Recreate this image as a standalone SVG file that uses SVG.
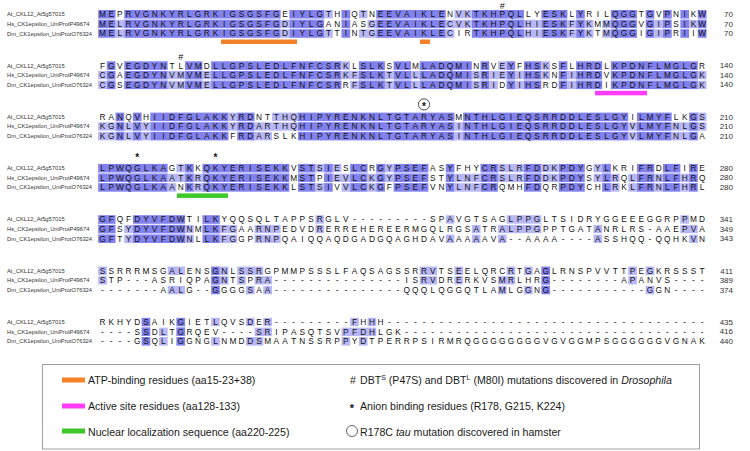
<svg xmlns="http://www.w3.org/2000/svg" width="750" height="451" viewBox="0 0 750 451">
<style>
text{font-family:"Liberation Sans",Arial,Helvetica,sans-serif;fill:#111}
.s{font-size:8.3px;text-anchor:middle}
.lab{font-size:5.8px;fill:#333}
.num{font-size:8px;text-anchor:end;fill:#333}
.d{fill:#8282ee}
.m{fill:#b8b8f6}
.gap{fill:#fff}
.sym{font-size:9px;text-anchor:middle}
.star{font-size:10px;font-weight:bold;text-anchor:middle}
.lstar{font-size:11px;font-weight:bold;text-anchor:middle}
.leg{font-size:10.6px;fill:#1a1a1a}
.sup{font-size:7px}
</style>
<rect width="750" height="451" fill="#fff"/>

<g id="block1">
<g transform="translate(98.155,0) scale(8.69,1)">
<rect class="d" x="0" y="10" width="2" height="27.8"/><rect class="d" x="3" y="10" width="18" height="27.8"/><rect class="d" x="22" y="10" width="4" height="27.8"/><rect class="d" x="28" y="10" width="1" height="27.8"/><rect class="d" x="32" y="10" width="8" height="27.8"/><rect class="d" x="43" y="10" width="6" height="27.8"/><rect class="d" x="51" y="10" width="3" height="27.8"/><rect class="d" x="55" y="10" width="1" height="27.8"/><rect class="d" x="59" y="10" width="3" height="27.8"/><rect class="d" x="63" y="10" width="1" height="27.8"/><rect class="d" x="65" y="10" width="1" height="27.8"/><rect class="d" x="67" y="10" width="1" height="27.8"/><rect class="d" x="69" y="10" width="1" height="27.8"/>
<rect class="m" x="26" y="10" width="1" height="8.6"/><rect class="m" x="30" y="10" width="1" height="8.6"/><rect class="m" x="41" y="10" width="2" height="8.6"/>
<rect class="m" x="2" y="19.6" width="1" height="8.6"/><rect class="m" x="21" y="19.6" width="1" height="8.6"/><rect class="m" x="31" y="19.6" width="1" height="8.6"/><rect class="m" x="40" y="19.6" width="3" height="8.6"/><rect class="m" x="49" y="19.6" width="2" height="8.6"/><rect class="m" x="54" y="19.6" width="1" height="8.6"/><rect class="m" x="56" y="19.6" width="1" height="8.6"/><rect class="m" x="58" y="19.6" width="1" height="8.6"/><rect class="m" x="64" y="19.6" width="1" height="8.6"/><rect class="m" x="68" y="19.6" width="1" height="8.6"/>
<rect class="m" x="2" y="29.2" width="1" height="8.6"/><rect class="m" x="21" y="29.2" width="1" height="8.6"/><rect class="m" x="26" y="29.2" width="1" height="8.6"/><rect class="m" x="30" y="29.2" width="2" height="8.6"/><rect class="m" x="40" y="29.2" width="1" height="8.6"/><rect class="m" x="49" y="29.2" width="2" height="8.6"/><rect class="m" x="54" y="29.2" width="1" height="8.6"/><rect class="m" x="56" y="29.2" width="1" height="8.6"/><rect class="m" x="58" y="29.2" width="1" height="8.6"/><rect class="m" x="64" y="29.2" width="1" height="8.6"/>
<rect class="gap" x="0" y="18.6" width="70" height="1"/><rect class="gap" x="0" y="28.2" width="70" height="1"/>
</g>
<text class="sym" x="502.24" y="8.5">#</text>
<rect x="221" y="39.5" width="76" height="4.5" fill="#f5822a"/>
<rect x="420" y="39.5" width="10" height="4.5" fill="#f5822a"/>
<text class="lab" x="7" y="16.3">At_CKL12_At5g57015</text>
<text class="lab" x="7" y="25.9">Hs_CK1epsilon_UniProtP49674</text>
<text class="lab" x="7" y="35.5">Dm_CK1epsilon_UniProtO76324</text>
<text class="s" x="102.5 111.19 119.88 128.57 137.26 145.95 154.64 163.33 172.02 180.71 189.4 198.09 206.78 215.47 224.16 232.85 241.54 250.23 258.92 267.61 276.3 284.99 293.68 302.37 311.06 319.75 328.44 337.13 345.82 354.51 363.2 371.89 380.58 389.27 397.96 406.65 415.34 424.03 432.72 441.41 450.1 458.79 467.48 476.17 484.86 493.55 502.24 510.93 519.62 528.31 537 545.69 554.38 563.07 571.76 580.45 589.14 597.83 606.52 615.21 623.9 632.59 641.28 649.97 658.66 667.35 676.04 684.73 693.42 702.11" y="17.25">MEPRVGNKYRLGRKIGSGSFGEIYLGTHIQTNEEVAIKLENVKTKHPQLLYESKLYRILQGGTGVPNIKW</text>
<text class="s" x="102.5 111.19 119.88 128.57 137.26 145.95 154.64 163.33 172.02 180.71 189.4 198.09 206.78 215.47 224.16 232.85 241.54 250.23 258.92 267.61 276.3 284.99 293.68 302.37 311.06 319.75 328.44 337.13 345.82 354.51 363.2 371.89 380.58 389.27 397.96 406.65 415.34 424.03 432.72 441.41 450.1 458.79 467.48 476.17 484.86 493.55 502.24 510.93 519.62 528.31 537 545.69 554.38 563.07 571.76 580.45 589.14 597.83 606.52 615.21 623.9 632.59 641.28 649.97 658.66 667.35 676.04 684.73 693.42 702.11" y="26.85">MELRVGNKYRLGRKIGSGSFGDIYLGANIASGEEVAIKLECVKTKHPQLHIESKFYKMMQGGVGIPSIKW</text>
<text class="s" x="102.5 111.19 119.88 128.57 137.26 145.95 154.64 163.33 172.02 180.71 189.4 198.09 206.78 215.47 224.16 232.85 241.54 250.23 258.92 267.61 276.3 284.99 293.68 302.37 311.06 319.75 328.44 337.13 345.82 354.51 363.2 371.89 380.58 389.27 397.96 406.65 415.34 424.03 432.72 441.41 450.1 458.79 467.48 476.17 484.86 493.55 502.24 510.93 519.62 528.31 537 545.69 554.38 563.07 571.76 580.45 589.14 597.83 606.52 615.21 623.9 632.59 641.28 649.97 658.66 667.35 676.04 684.73 693.42 702.11" y="36.45">MELRVGNKYRLGRKIGSGSFGDIYLGTTINTGEEVAIKLECIRTKHPQLHIESKFYKTMQGGIGIPRIIW</text>
<text class="num" x="733" y="17">70</text><text class="num" x="733" y="26.6">70</text><text class="num" x="733" y="36.2">70</text>
</g>

<g id="block2" transform="translate(0,51.3)">
<g transform="translate(98.155,0) scale(8.69,1)">
<rect class="d" x="1" y="10" width="1" height="27.8"/><rect class="d" x="3" y="10" width="5" height="27.8"/><rect class="d" x="10" y="10" width="2" height="27.8"/><rect class="d" x="13" y="10" width="15" height="27.8"/><rect class="d" x="30" y="10" width="3" height="27.8"/><rect class="d" x="34" y="10" width="2" height="27.8"/><rect class="d" x="37" y="10" width="6" height="27.8"/><rect class="d" x="44" y="10" width="1" height="27.8"/><rect class="d" x="47" y="10" width="1" height="27.8"/><rect class="d" x="49" y="10" width="2" height="27.8"/><rect class="d" x="53" y="10" width="1" height="27.8"/><rect class="d" x="55" y="10" width="3" height="27.8"/><rect class="d" x="59" y="10" width="10" height="27.8"/>
<rect class="m" x="28" y="10" width="1" height="8.6"/><rect class="m" x="46" y="10" width="1" height="8.6"/><rect class="m" x="51" y="10" width="1" height="8.6"/>
<rect class="m" x="0" y="19.6" width="1" height="8.6"/><rect class="m" x="8" y="19.6" width="2" height="8.6"/><rect class="m" x="12" y="19.6" width="1" height="8.6"/><rect class="m" x="28" y="19.6" width="2" height="8.6"/><rect class="m" x="33" y="19.6" width="1" height="8.6"/><rect class="m" x="36" y="19.6" width="1" height="8.6"/><rect class="m" x="43" y="19.6" width="1" height="8.6"/><rect class="m" x="45" y="19.6" width="2" height="8.6"/><rect class="m" x="48" y="19.6" width="1" height="8.6"/><rect class="m" x="51" y="19.6" width="1" height="8.6"/><rect class="m" x="54" y="19.6" width="1" height="8.6"/><rect class="m" x="69" y="19.6" width="1" height="8.6"/>
<rect class="m" x="0" y="29.2" width="1" height="8.6"/><rect class="m" x="8" y="29.2" width="2" height="8.6"/><rect class="m" x="12" y="29.2" width="1" height="8.6"/><rect class="m" x="29" y="29.2" width="1" height="8.6"/><rect class="m" x="33" y="29.2" width="1" height="8.6"/><rect class="m" x="36" y="29.2" width="1" height="8.6"/><rect class="m" x="43" y="29.2" width="1" height="8.6"/><rect class="m" x="45" y="29.2" width="1" height="8.6"/><rect class="m" x="48" y="29.2" width="1" height="8.6"/><rect class="m" x="54" y="29.2" width="1" height="8.6"/><rect class="m" x="69" y="29.2" width="1" height="8.6"/>
<rect class="gap" x="0" y="18.6" width="70" height="1"/><rect class="gap" x="0" y="28.2" width="70" height="1"/>
</g>
<text class="sym" x="180.71" y="8.5">#</text>
<rect x="595" y="39.5" width="52" height="4.5" fill="#ff3cff"/>
<text class="lab" x="7" y="16.3">At_CKL12_At5g57015</text>
<text class="lab" x="7" y="25.9">Hs_CK1epsilon_UniProtP49674</text>
<text class="lab" x="7" y="35.5">Dm_CK1epsilon_UniProtO76324</text>
<text class="s" x="102.5 111.19 119.88 128.57 137.26 145.95 154.64 163.33 172.02 180.71 189.4 198.09 206.78 215.47 224.16 232.85 241.54 250.23 258.92 267.61 276.3 284.99 293.68 302.37 311.06 319.75 328.44 337.13 345.82 354.51 363.2 371.89 380.58 389.27 397.96 406.65 415.34 424.03 432.72 441.41 450.1 458.79 467.48 476.17 484.86 493.55 502.24 510.93 519.62 528.31 537 545.69 554.38 563.07 571.76 580.45 589.14 597.83 606.52 615.21 623.9 632.59 641.28 649.97 658.66 667.35 676.04 684.73 693.42 702.11" y="17.25">FGVEGDYNTLVMDLLGPSLEDLFNFCSRKLSLKSVLMLADQMINRVEYFHSKSFLHRDLKPDNFLMGLGR</text>
<text class="s" x="102.5 111.19 119.88 128.57 137.26 145.95 154.64 163.33 172.02 180.71 189.4 198.09 206.78 215.47 224.16 232.85 241.54 250.23 258.92 267.61 276.3 284.99 293.68 302.37 311.06 319.75 328.44 337.13 345.82 354.51 363.2 371.89 380.58 389.27 397.96 406.65 415.34 424.03 432.72 441.41 450.1 458.79 467.48 476.17 484.86 493.55 502.24 510.93 519.62 528.31 537 545.69 554.38 563.07 571.76 580.45 589.14 597.83 606.52 615.21 623.9 632.59 641.28 649.97 658.66 667.35 676.04 684.73 693.42 702.11" y="26.85">CGAEGDYNVMVMELLGPSLEDLFNFCSRKFSLKTVLLLADQMISRIEYIHSKNFIHRDVKPDNFLMGLGK</text>
<text class="s" x="102.5 111.19 119.88 128.57 137.26 145.95 154.64 163.33 172.02 180.71 189.4 198.09 206.78 215.47 224.16 232.85 241.54 250.23 258.92 267.61 276.3 284.99 293.68 302.37 311.06 319.75 328.44 337.13 345.82 354.51 363.2 371.89 380.58 389.27 397.96 406.65 415.34 424.03 432.72 441.41 450.1 458.79 467.48 476.17 484.86 493.55 502.24 510.93 519.62 528.31 537 545.69 554.38 563.07 571.76 580.45 589.14 597.83 606.52 615.21 623.9 632.59 641.28 649.97 658.66 667.35 676.04 684.73 693.42 702.11" y="36.45">CGSEGDYNVMVMELLGPSLEDLFNFCSRRFSLKTVLLLADQMISRIDYIHSRDFIHRDIKPDNFLMGLGK</text>
<text class="num" x="733" y="17">140</text><text class="num" x="733" y="26.6">140</text><text class="num" x="733" y="36.2">140</text>
</g>

<g id="block3" transform="translate(0,102.6)">
<g transform="translate(98.155,0) scale(8.69,1)">
<rect class="d" x="2" y="10" width="1" height="27.8"/><rect class="d" x="4" y="10" width="1" height="27.8"/><rect class="d" x="6" y="10" width="9" height="27.8"/><rect class="d" x="16" y="10" width="2" height="27.8"/><rect class="d" x="23" y="10" width="18" height="27.8"/><rect class="d" x="42" y="10" width="19" height="27.8"/><rect class="d" x="62" y="10" width="4" height="27.8"/><rect class="d" x="68" y="10" width="1" height="27.8"/>
<rect class="m" x="15" y="10" width="1" height="8.6"/><rect class="m" x="20" y="10" width="3" height="8.6"/><rect class="m" x="69" y="10" width="1" height="8.6"/>
<rect class="m" x="0" y="19.6" width="2" height="8.6"/><rect class="m" x="3" y="19.6" width="1" height="8.6"/><rect class="m" x="5" y="19.6" width="1" height="8.6"/><rect class="m" x="15" y="19.6" width="1" height="8.6"/><rect class="m" x="18" y="19.6" width="5" height="8.6"/><rect class="m" x="41" y="19.6" width="1" height="8.6"/><rect class="m" x="61" y="19.6" width="1" height="8.6"/><rect class="m" x="66" y="19.6" width="2" height="8.6"/><rect class="m" x="69" y="19.6" width="1" height="8.6"/>
<rect class="m" x="0" y="29.2" width="2" height="8.6"/><rect class="m" x="3" y="29.2" width="1" height="8.6"/><rect class="m" x="5" y="29.2" width="1" height="8.6"/><rect class="m" x="18" y="29.2" width="2" height="8.6"/><rect class="m" x="41" y="29.2" width="1" height="8.6"/><rect class="m" x="61" y="29.2" width="1" height="8.6"/><rect class="m" x="66" y="29.2" width="2" height="8.6"/>
<rect class="gap" x="0" y="18.6" width="70" height="1"/><rect class="gap" x="0" y="28.2" width="70" height="1"/>
</g>
<circle cx="424.03" cy="1.8" r="5.6" fill="none" stroke="#222" stroke-width="0.8"/>
<text class="star" x="424.03" y="7.4">*</text>
<text class="lab" x="7" y="16.3">At_CKL12_At5g57015</text>
<text class="lab" x="7" y="25.9">Hs_CK1epsilon_UniProtP49674</text>
<text class="lab" x="7" y="35.5">Dm_CK1epsilon_UniProtO76324</text>
<text class="s" x="102.5 111.19 119.88 128.57 137.26 145.95 154.64 163.33 172.02 180.71 189.4 198.09 206.78 215.47 224.16 232.85 241.54 250.23 258.92 267.61 276.3 284.99 293.68 302.37 311.06 319.75 328.44 337.13 345.82 354.51 363.2 371.89 380.58 389.27 397.96 406.65 415.34 424.03 432.72 441.41 450.1 458.79 467.48 476.17 484.86 493.55 502.24 510.93 519.62 528.31 537 545.69 554.38 563.07 571.76 580.45 589.14 597.83 606.52 615.21 623.9 632.59 641.28 649.97 658.66 667.35 676.04 684.73 693.42 702.11" y="17.25">RANQVHIIDFGLAKKYRDNTTHQHIPYRENKNLTGTARYASMNTHLGIEQSRRDDLESLGYILMYFLKGS</text>
<text class="s" x="102.5 111.19 119.88 128.57 137.26 145.95 154.64 163.33 172.02 180.71 189.4 198.09 206.78 215.47 224.16 232.85 241.54 250.23 258.92 267.61 276.3 284.99 293.68 302.37 311.06 319.75 328.44 337.13 345.82 354.51 363.2 371.89 380.58 389.27 397.96 406.65 415.34 424.03 432.72 441.41 450.1 458.79 467.48 476.17 484.86 493.55 502.24 510.93 519.62 528.31 537 545.69 554.38 563.07 571.76 580.45 589.14 597.83 606.52 615.21 623.9 632.59 641.28 649.97 658.66 667.35 676.04 684.73 693.42 702.11" y="26.85">KGNLVYIIDFGLAKKYRDARTHQHIPYRENKNLTGTARYASINTHLGIEQSRRDDLESLGYVLMYFNLGS</text>
<text class="s" x="102.5 111.19 119.88 128.57 137.26 145.95 154.64 163.33 172.02 180.71 189.4 198.09 206.78 215.47 224.16 232.85 241.54 250.23 258.92 267.61 276.3 284.99 293.68 302.37 311.06 319.75 328.44 337.13 345.82 354.51 363.2 371.89 380.58 389.27 397.96 406.65 415.34 424.03 432.72 441.41 450.1 458.79 467.48 476.17 484.86 493.55 502.24 510.93 519.62 528.31 537 545.69 554.38 563.07 571.76 580.45 589.14 597.83 606.52 615.21 623.9 632.59 641.28 649.97 658.66 667.35 676.04 684.73 693.42 702.11" y="36.45">KGNLVYIIDFGLAKKFRDARSLKHIPYRENKNLTGTARYASINTHLGIEQSRRDDLESLGYVLMYFNLGA</text>
<text class="num" x="733" y="17">210</text><text class="num" x="733" y="26.6">210</text><text class="num" x="733" y="36.2">210</text>
</g>

<g id="block4" transform="translate(0,153.9)">
<g transform="translate(98.155,0) scale(8.69,1)">
<rect class="d" x="0" y="10" width="8" height="27.8"/><rect class="d" x="10" y="10" width="1" height="27.8"/><rect class="d" x="12" y="10" width="10" height="27.8"/><rect class="d" x="23" y="10" width="2" height="27.8"/><rect class="d" x="26" y="10" width="1" height="27.8"/><rect class="d" x="29" y="10" width="2" height="27.8"/><rect class="d" x="32" y="10" width="1" height="27.8"/><rect class="d" x="34" y="10" width="4" height="27.8"/><rect class="d" x="40" y="10" width="1" height="27.8"/><rect class="d" x="44" y="10" width="2" height="27.8"/><rect class="d" x="49" y="10" width="2" height="27.8"/><rect class="d" x="53" y="10" width="3" height="27.8"/><rect class="d" x="58" y="10" width="1" height="27.8"/><rect class="d" x="62" y="10" width="2" height="27.8"/><rect class="d" x="65" y="10" width="2" height="27.8"/><rect class="d" x="68" y="10" width="1" height="27.8"/>
<rect class="m" x="9" y="10" width="1" height="8.6"/><rect class="m" x="25" y="10" width="1" height="8.6"/><rect class="m" x="27" y="10" width="1" height="8.6"/><rect class="m" x="33" y="10" width="1" height="8.6"/><rect class="m" x="46" y="10" width="3" height="8.6"/><rect class="m" x="51" y="10" width="2" height="8.6"/><rect class="m" x="57" y="10" width="1" height="8.6"/>
<rect class="m" x="8" y="19.6" width="2" height="8.6"/><rect class="m" x="11" y="19.6" width="1" height="8.6"/><rect class="m" x="27" y="19.6" width="2" height="8.6"/><rect class="m" x="31" y="19.6" width="1" height="8.6"/><rect class="m" x="33" y="19.6" width="1" height="8.6"/><rect class="m" x="41" y="19.6" width="3" height="8.6"/><rect class="m" x="46" y="19.6" width="3" height="8.6"/><rect class="m" x="51" y="19.6" width="2" height="8.6"/><rect class="m" x="57" y="19.6" width="1" height="8.6"/><rect class="m" x="59" y="19.6" width="1" height="8.6"/><rect class="m" x="61" y="19.6" width="1" height="8.6"/><rect class="m" x="64" y="19.6" width="1" height="8.6"/><rect class="m" x="67" y="19.6" width="1" height="8.6"/>
<rect class="m" x="8" y="29.2" width="1" height="8.6"/><rect class="m" x="11" y="29.2" width="1" height="8.6"/><rect class="m" x="25" y="29.2" width="1" height="8.6"/><rect class="m" x="28" y="29.2" width="1" height="8.6"/><rect class="m" x="31" y="29.2" width="1" height="8.6"/><rect class="m" x="41" y="29.2" width="3" height="8.6"/><rect class="m" x="59" y="29.2" width="1" height="8.6"/><rect class="m" x="61" y="29.2" width="1" height="8.6"/><rect class="m" x="64" y="29.2" width="1" height="8.6"/><rect class="m" x="67" y="29.2" width="1" height="8.6"/>
<rect class="gap" x="0" y="18.6" width="70" height="1"/><rect class="gap" x="0" y="28.2" width="70" height="1"/>
</g>
<text class="star" x="137.26" y="7.3">*</text>
<text class="star" x="215.47" y="7.3">*</text>
<rect x="177" y="39.5" width="51" height="4.5" fill="#3cc828"/>
<text class="lab" x="7" y="16.3">At_CKL12_At5g57015</text>
<text class="lab" x="7" y="25.9">Hs_CK1epsilon_UniProtP49674</text>
<text class="lab" x="7" y="35.5">Dm_CK1epsilon_UniProtO76324</text>
<text class="s" x="102.5 111.19 119.88 128.57 137.26 145.95 154.64 163.33 172.02 180.71 189.4 198.09 206.78 215.47 224.16 232.85 241.54 250.23 258.92 267.61 276.3 284.99 293.68 302.37 311.06 319.75 328.44 337.13 345.82 354.51 363.2 371.89 380.58 389.27 397.96 406.65 415.34 424.03 432.72 441.41 450.1 458.79 467.48 476.17 484.86 493.55 502.24 510.93 519.62 528.31 537 545.69 554.38 563.07 571.76 580.45 589.14 597.83 606.52 615.21 623.9 632.59 641.28 649.97 658.66 667.35 676.04 684.73 693.42 702.11" y="17.25">LPWQGLKAGTKKQKYERISEKKVSTSIESLCRGYPSEFASYFHYCRSLRFDDKPDYGYLKRIFRDLFIRE</text>
<text class="s" x="102.5 111.19 119.88 128.57 137.26 145.95 154.64 163.33 172.02 180.71 189.4 198.09 206.78 215.47 224.16 232.85 241.54 250.23 258.92 267.61 276.3 284.99 293.68 302.37 311.06 319.75 328.44 337.13 345.82 354.51 363.2 371.89 380.58 389.27 397.96 406.65 415.34 424.03 432.72 441.41 450.1 458.79 467.48 476.17 484.86 493.55 502.24 510.93 519.62 528.31 537 545.69 554.38 563.07 571.76 580.45 589.14 597.83 606.52 615.21 623.9 632.59 641.28 649.97 658.66 667.35 676.04 684.73 693.42 702.11" y="26.85">LPWQGLKAATKRQKYERISEKKMSTPIEVLCKGYPSEFSTYLNFCRSLRFDDKPDYSYLRQLFRNLFHRQ</text>
<text class="s" x="102.5 111.19 119.88 128.57 137.26 145.95 154.64 163.33 172.02 180.71 189.4 198.09 206.78 215.47 224.16 232.85 241.54 250.23 258.92 267.61 276.3 284.99 293.68 302.37 311.06 319.75 328.44 337.13 345.82 354.51 363.2 371.89 380.58 389.27 397.96 406.65 415.34 424.03 432.72 441.41 450.1 458.79 467.48 476.17 484.86 493.55 502.24 510.93 519.62 528.31 537 545.69 554.38 563.07 571.76 580.45 589.14 597.83 606.52 615.21 623.9 632.59 641.28 649.97 658.66 667.35 676.04 684.73 693.42 702.11" y="36.45">LPWQGLKAANKRQKYERISEKKLSTSIVVLCKGFPSEFVNYLNFCRQMHFDQRPDYCHLRKLFRNLFHRL</text>
<text class="num" x="733" y="17">280</text><text class="num" x="733" y="26.6">280</text><text class="num" x="733" y="36.2">280</text>
</g>

<g id="block5" transform="translate(0,205.2)">
<g transform="translate(98.155,0) scale(8.69,1)">
<rect class="d" x="0" y="10" width="2" height="27.8"/><rect class="d" x="4" y="10" width="6" height="27.8"/><rect class="d" x="12" y="10" width="2" height="27.8"/>
<rect class="m" x="25" y="10" width="1" height="8.6"/><rect class="m" x="40" y="10" width="1" height="8.6"/><rect class="m" x="47" y="10" width="4" height="8.6"/><rect class="m" x="67" y="10" width="1" height="8.6"/>
<rect class="m" x="3" y="19.6" width="1" height="8.6"/><rect class="m" x="10" y="19.6" width="1" height="8.6"/><rect class="m" x="14" y="19.6" width="2" height="8.6"/><rect class="m" x="18" y="19.6" width="3" height="8.6"/><rect class="m" x="25" y="19.6" width="1" height="8.6"/><rect class="m" x="43" y="19.6" width="1" height="8.6"/><rect class="m" x="46" y="19.6" width="5" height="8.6"/><rect class="m" x="57" y="19.6" width="1" height="8.6"/><rect class="m" x="67" y="19.6" width="2" height="8.6"/>
<rect class="m" x="3" y="29.2" width="1" height="8.6"/><rect class="m" x="10" y="29.2" width="1" height="8.6"/><rect class="m" x="14" y="29.2" width="2" height="8.6"/><rect class="m" x="18" y="29.2" width="3" height="8.6"/><rect class="m" x="40" y="29.2" width="1" height="8.6"/><rect class="m" x="43" y="29.2" width="1" height="8.6"/><rect class="m" x="46" y="29.2" width="1" height="8.6"/><rect class="m" x="57" y="29.2" width="1" height="8.6"/><rect class="m" x="68" y="29.2" width="1" height="8.6"/>
<rect class="gap" x="0" y="18.6" width="70" height="1"/><rect class="gap" x="0" y="28.2" width="70" height="1"/>
</g>
<text class="lab" x="7" y="16.3">At_CKL12_At5g57015</text>
<text class="lab" x="7" y="25.9">Hs_CK1epsilon_UniProtP49674</text>
<text class="lab" x="7" y="35.5">Dm_CK1epsilon_UniProtO76324</text>
<text class="s" x="102.5 111.19 119.88 128.57 137.26 145.95 154.64 163.33 172.02 180.71 189.4 198.09 206.78 215.47 224.16 232.85 241.54 250.23 258.92 267.61 276.3 284.99 293.68 302.37 311.06 319.75 328.44 337.13 345.82 354.51 363.2 371.89 380.58 389.27 397.96 406.65 415.34 424.03 432.72 441.41 450.1 458.79 467.48 476.17 484.86 493.55 502.24 510.93 519.62 528.31 537 545.69 554.38 563.07 571.76 580.45 589.14 597.83 606.52 615.21 623.9 632.59 641.28 649.97 658.66 667.35 676.04 684.73 693.42 702.11" y="17.25">GFQFDYVFDWTILKYQQSQLTAPPSRGLV---------SPAVGTSAGLPPGLTSIDRYGGEEEGGRPPMD</text>
<text class="s" x="102.5 111.19 119.88 128.57 137.26 145.95 154.64 163.33 172.02 180.71 189.4 198.09 206.78 215.47 224.16 232.85 241.54 250.23 258.92 267.61 276.3 284.99 293.68 302.37 311.06 319.75 328.44 337.13 345.82 354.51 363.2 371.89 380.58 389.27 397.96 406.65 415.34 424.03 432.72 441.41 450.1 458.79 467.48 476.17 484.86 493.55 502.24 510.93 519.62 528.31 537 545.69 554.38 563.07 571.76 580.45 589.14 597.83 606.52 615.21 623.9 632.59 641.28 649.97 658.66 667.35 676.04 684.73 693.42 702.11" y="26.85">GFSYDYVFDWNMLKFGAARNPEDVDRERREHEREERMGQLRGSATRALPPGPPTGATANRLRS-AAEPVA</text>
<text class="s" x="102.5 111.19 119.88 128.57 137.26 145.95 154.64 163.33 172.02 180.71 189.4 198.09 206.78 215.47 224.16 232.85 241.54 250.23 258.92 267.61 276.3 284.99 293.68 302.37 311.06 319.75 328.44 337.13 345.82 354.51 363.2 371.89 380.58 389.27 397.96 406.65 415.34 424.03 432.72 441.41 450.1 458.79 467.48 476.17 484.86 493.55 502.24 510.93 519.62 528.31 537 545.69 554.38 563.07 571.76 580.45 589.14 597.83 606.52 615.21 623.9 632.59 641.28 649.97 658.66 667.35 676.04 684.73 693.42 702.11" y="36.45">GFTYDYVFDWNLLKFGGPRNPQAIQQAQDGADGQAGHDAVAAAAAVA--AAAA----ASSHQQ-QQHKVN</text>
<text class="num" x="733" y="17">341</text><text class="num" x="733" y="26.6">349</text><text class="num" x="733" y="36.2">343</text>
</g>

<g id="block6" transform="translate(0,256.5)">
<g transform="translate(98.155,0) scale(8.69,1)">
<rect class="d" x="13" y="10" width="1" height="27.8"/><rect class="d" x="51" y="10" width="1" height="27.8"/>
<rect class="m" x="0" y="10" width="1" height="8.6"/><rect class="m" x="8" y="10" width="2" height="8.6"/><rect class="m" x="14" y="10" width="1" height="8.6"/><rect class="m" x="16" y="10" width="3" height="8.6"/><rect class="m" x="37" y="10" width="2" height="8.6"/><rect class="m" x="41" y="10" width="1" height="8.6"/><rect class="m" x="47" y="10" width="1" height="8.6"/><rect class="m" x="49" y="10" width="1" height="8.6"/><rect class="m" x="61" y="10" width="1" height="8.6"/><rect class="m" x="63" y="10" width="1" height="8.6"/>
<rect class="m" x="0" y="19.6" width="1" height="8.6"/><rect class="m" x="14" y="19.6" width="1" height="8.6"/><rect class="m" x="16" y="19.6" width="1" height="8.6"/><rect class="m" x="18" y="19.6" width="2" height="8.6"/><rect class="m" x="37" y="19.6" width="2" height="8.6"/><rect class="m" x="41" y="19.6" width="1" height="8.6"/><rect class="m" x="46" y="19.6" width="2" height="8.6"/><rect class="m" x="61" y="19.6" width="1" height="8.6"/>
<rect class="m" x="8" y="29.2" width="2" height="8.6"/><rect class="m" x="17" y="29.2" width="1" height="8.6"/><rect class="m" x="19" y="29.2" width="1" height="8.6"/><rect class="m" x="46" y="29.2" width="1" height="8.6"/><rect class="m" x="49" y="29.2" width="1" height="8.6"/><rect class="m" x="63" y="29.2" width="1" height="8.6"/>
<rect class="gap" x="0" y="18.6" width="70" height="1"/><rect class="gap" x="0" y="28.2" width="70" height="1"/>
</g>
<text class="lab" x="7" y="16.3">At_CKL12_At5g57015</text>
<text class="lab" x="7" y="25.9">Hs_CK1epsilon_UniProtP49674</text>
<text class="lab" x="7" y="35.5">Dm_CK1epsilon_UniProtO76324</text>
<text class="s" x="102.5 111.19 119.88 128.57 137.26 145.95 154.64 163.33 172.02 180.71 189.4 198.09 206.78 215.47 224.16 232.85 241.54 250.23 258.92 267.61 276.3 284.99 293.68 302.37 311.06 319.75 328.44 337.13 345.82 354.51 363.2 371.89 380.58 389.27 397.96 406.65 415.34 424.03 432.72 441.41 450.1 458.79 467.48 476.17 484.86 493.55 502.24 510.93 519.62 528.31 537 545.69 554.38 563.07 571.76 580.45 589.14 597.83 606.52 615.21 623.9 632.59 641.28 649.97 658.66 667.35 676.04 684.73 693.42 702.11" y="17.25">SSRRRMSGALENSGNLSSRGPMMPSSSLFAQSAGSSRRVTSEELQRCRTGAGLRNSPVVTTPEGKRSSST</text>
<text class="s" x="102.5 111.19 119.88 128.57 137.26 145.95 154.64 163.33 172.02 180.71 189.4 198.09 206.78 215.47 224.16 232.85 241.54 250.23 258.92 267.61 276.3 284.99 293.68 302.37 311.06 319.75 328.44 337.13 345.82 354.51 363.2 371.89 380.58 389.27 397.96 406.65 415.34 424.03 432.72 441.41 450.1 458.79 467.48 476.17 484.86 493.55 502.24 510.93 519.62 528.31 537 545.69 554.38 563.07 571.76 580.45 589.14 597.83 606.52 615.21 623.9 632.59 641.28 649.97 658.66 667.35 676.04 684.73 693.42 702.11" y="26.85">STP---ASRIQPAGNTSPRA---------------ISRVDRERKVSMRLHRG--------APANVS----</text>
<text class="s" x="102.5 111.19 119.88 128.57 137.26 145.95 154.64 163.33 172.02 180.71 189.4 198.09 206.78 215.47 224.16 232.85 241.54 250.23 258.92 267.61 276.3 284.99 293.68 302.37 311.06 319.75 328.44 337.13 345.82 354.51 363.2 371.89 380.58 389.27 397.96 406.65 415.34 424.03 432.72 441.41 450.1 458.79 467.48 476.17 484.86 493.55 502.24 510.93 519.62 528.31 537 545.69 554.38 563.07 571.76 580.45 589.14 597.83 606.52 615.21 623.9 632.59 641.28 649.97 658.66 667.35 676.04 684.73 693.42 702.11" y="36.45">-------AALG--GGGGSAA---------------QQQLQGGQTLAMLGGNG-----------GGN----</text>
<text class="num" x="733" y="17">411</text><text class="num" x="733" y="26.6">389</text><text class="num" x="733" y="36.2">374</text>
</g>

<g id="block7" transform="translate(0,307.8)">
<g transform="translate(98.155,0) scale(8.69,1)">
<rect class="d" x="5" y="10" width="1" height="27.8"/><rect class="d" x="9" y="10" width="1" height="27.8"/>
<rect class="m" x="13" y="10" width="1" height="8.6"/><rect class="m" x="17" y="10" width="1" height="8.6"/><rect class="m" x="19" y="10" width="1" height="8.6"/><rect class="m" x="29" y="10" width="1" height="8.6"/><rect class="m" x="31" y="10" width="1" height="8.6"/>
<rect class="m" x="7" y="19.6" width="1" height="8.6"/><rect class="m" x="18" y="19.6" width="2" height="8.6"/><rect class="m" x="28" y="19.6" width="4" height="8.6"/>
<rect class="m" x="7" y="29.2" width="1" height="8.6"/><rect class="m" x="13" y="29.2" width="1" height="8.6"/><rect class="m" x="17" y="29.2" width="2" height="8.6"/><rect class="m" x="28" y="29.2" width="1" height="8.6"/><rect class="m" x="30" y="29.2" width="1" height="8.6"/>
<rect class="gap" x="0" y="18.6" width="70" height="1"/><rect class="gap" x="0" y="28.2" width="70" height="1"/>
</g>
<text class="lab" x="7" y="16.3">At_CKL12_At5g57015</text>
<text class="lab" x="7" y="25.9">Hs_CK1epsilon_UniProtP49674</text>
<text class="lab" x="7" y="35.5">Dm_CK1epsilon_UniProtO76324</text>
<text class="s" x="102.5 111.19 119.88 128.57 137.26 145.95 154.64 163.33 172.02 180.71 189.4 198.09 206.78 215.47 224.16 232.85 241.54 250.23 258.92 267.61 276.3 284.99 293.68 302.37 311.06 319.75 328.44 337.13 345.82 354.51 363.2 371.89 380.58 389.27 397.96 406.65 415.34 424.03 432.72 441.41 450.1 458.79 467.48 476.17 484.86 493.55 502.24 510.93 519.62 528.31 537 545.69 554.38 563.07 571.76 580.45 589.14 597.83 606.52 615.21 623.9 632.59 641.28 649.97 658.66 667.35 676.04 684.73 693.42 702.11" y="17.25">RKHYDSAIKGIETLQVSDER---------FHHH-------------------------------------</text>
<text class="s" x="102.5 111.19 119.88 128.57 137.26 145.95 154.64 163.33 172.02 180.71 189.4 198.09 206.78 215.47 224.16 232.85 241.54 250.23 258.92 267.61 276.3 284.99 293.68 302.37 311.06 319.75 328.44 337.13 345.82 354.51 363.2 371.89 380.58 389.27 397.96 406.65 415.34 424.03 432.72 441.41 450.1 458.79 467.48 476.17 484.86 493.55 502.24 510.93 519.62 528.31 537 545.69 554.38 563.07 571.76 580.45 589.14 597.83 606.52 615.21 623.9 632.59 641.28 649.97 658.66 667.35 676.04 684.73 693.42 702.11" y="26.85">----SSDLTGRQEV----SRIPASQTSVPFDHLGK-----------------------------------</text>
<text class="s" x="102.5 111.19 119.88 128.57 137.26 145.95 154.64 163.33 172.02 180.71 189.4 198.09 206.78 215.47 224.16 232.85 241.54 250.23 258.92 267.61 276.3 284.99 293.68 302.37 311.06 319.75 328.44 337.13 345.82 354.51 363.2 371.89 380.58 389.27 397.96 406.65 415.34 424.03 432.72 441.41 450.1 458.79 467.48 476.17 484.86 493.55 502.24 510.93 519.62 528.31 537 545.69 554.38 563.07 571.76 580.45 589.14 597.83 606.52 615.21 623.9 632.59 641.28 649.97 658.66 667.35 676.04 684.73 693.42 702.11" y="36.45">----GSQLIGGNGLNMDDSMAATNSSRPPYDTPERRPSIRMRQGGGGGGGGVGVGGMPSGGGGGGVGNAK</text>
<text class="num" x="733" y="17">435</text><text class="num" x="733" y="26.6">416</text><text class="num" x="733" y="36.2">440</text>
</g>

<g id="legend">
<rect x="42.5" y="364.5" width="657" height="84.5" fill="#fff" stroke="#a0a0a0" stroke-width="1"/>
<rect x="62" y="377.5" width="23" height="5" fill="#f5822a"/>
<text class="leg" x="88" y="384">ATP-binding residues (aa15-23+38)</text>
<rect x="62" y="403.5" width="23" height="5" fill="#ff3cff"/>
<text class="leg" x="88" y="410">Active site residues (aa128-133)</text>
<rect x="62" y="428.5" width="23" height="5" fill="#3cc828"/>
<text class="leg" x="88" y="435.5">Nuclear localization sequence (aa220-225)</text>
<text class="leg" x="353" y="384" text-anchor="middle">#</text>
<text class="leg" x="360" y="384">DBT<tspan class="sup" dy="-4">S</tspan><tspan dy="4"> (P47S) and DBT</tspan><tspan class="sup" dy="-4">L</tspan><tspan dy="4"> (M80I) mutations discovered in </tspan><tspan font-style="italic">Drosophila</tspan></text>
<text class="lstar" x="352" y="411.5">*</text>
<text class="leg" x="360" y="410">Anion binding residues (R178, G215, K224)</text>
<circle cx="352" cy="431" r="5.5" fill="none" stroke="#555" stroke-width="0.9"/>
<text class="leg" x="360" y="435.5">R178C <tspan font-style="italic">tau</tspan> mutation discovered in hamster</text>
</g>
</svg>
